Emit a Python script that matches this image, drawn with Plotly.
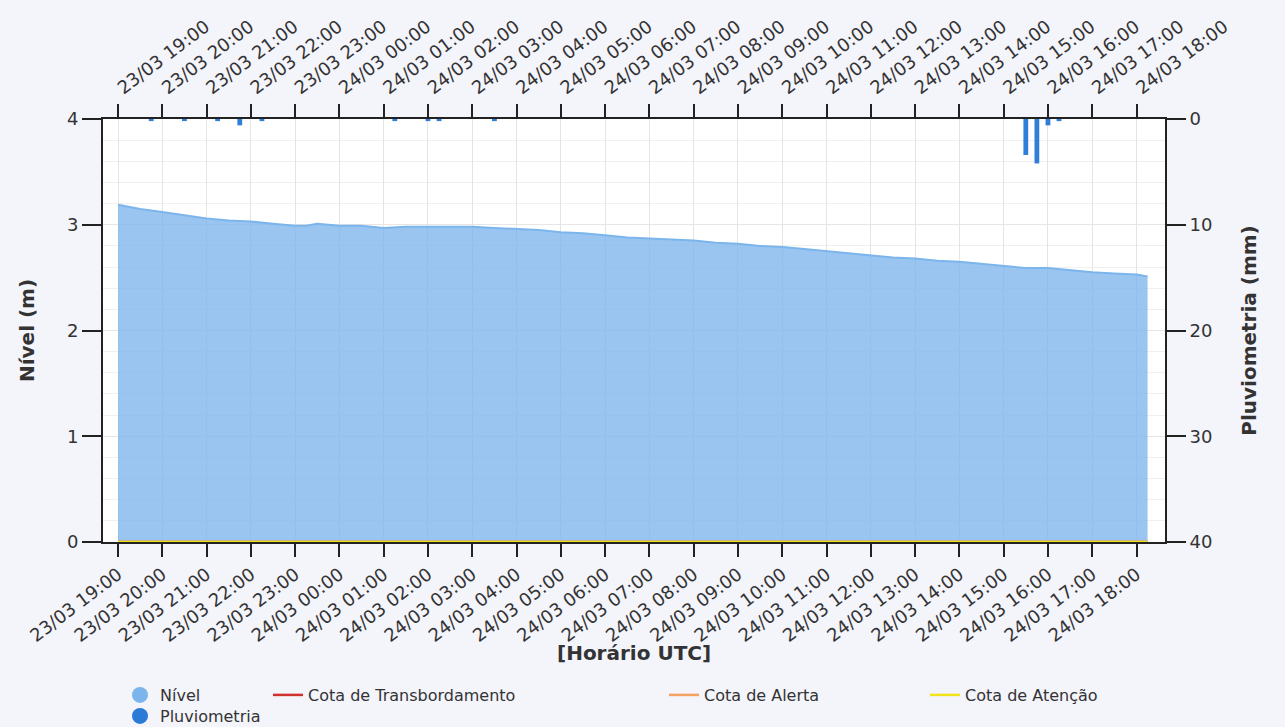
import plotly.graph_objects as go

# ---------------- data ----------------
level_times = [
    "2024-03-23 19:00", "2024-03-23 19:30", "2024-03-23 20:00", "2024-03-23 20:30",
    "2024-03-23 21:00", "2024-03-23 21:30", "2024-03-23 22:00", "2024-03-23 22:30",
    "2024-03-23 23:00", "2024-03-23 23:15", "2024-03-23 23:30", "2024-03-24 00:00",
    "2024-03-24 00:30", "2024-03-24 01:00", "2024-03-24 01:30", "2024-03-24 02:00",
    "2024-03-24 02:30", "2024-03-24 03:00", "2024-03-24 03:30", "2024-03-24 04:00",
    "2024-03-24 04:30", "2024-03-24 05:00", "2024-03-24 05:30", "2024-03-24 06:00",
    "2024-03-24 06:30", "2024-03-24 07:00", "2024-03-24 07:30", "2024-03-24 08:00",
    "2024-03-24 08:30", "2024-03-24 09:00", "2024-03-24 09:30", "2024-03-24 10:00",
    "2024-03-24 10:30", "2024-03-24 11:00", "2024-03-24 11:30", "2024-03-24 12:00",
    "2024-03-24 12:30", "2024-03-24 13:00", "2024-03-24 13:30", "2024-03-24 14:00",
    "2024-03-24 14:30", "2024-03-24 15:00", "2024-03-24 15:30", "2024-03-24 16:00",
    "2024-03-24 16:30", "2024-03-24 17:00", "2024-03-24 17:30", "2024-03-24 18:00",
    "2024-03-24 18:15",
]
level_values = [
    3.19, 3.15, 3.12, 3.09,
    3.06, 3.04, 3.03, 3.01,
    2.99, 2.99, 3.01, 2.99,
    2.99, 2.97, 2.98, 2.98,
    2.98, 2.98, 2.97, 2.96,
    2.95, 2.93, 2.92, 2.90,
    2.88, 2.87, 2.86, 2.85,
    2.83, 2.82, 2.80, 2.79,
    2.77, 2.75, 2.73, 2.71,
    2.69, 2.68, 2.66, 2.65,
    2.63, 2.61, 2.59, 2.59,
    2.57, 2.55, 2.54, 2.53,
    2.51,
]

rain_times = [
    "2024-03-23 19:45", "2024-03-23 20:30", "2024-03-23 21:15", "2024-03-23 21:45",
    "2024-03-23 22:15", "2024-03-24 01:15", "2024-03-24 02:00", "2024-03-24 02:15",
    "2024-03-24 03:30", "2024-03-24 15:30", "2024-03-24 15:45", "2024-03-24 16:00",
    "2024-03-24 16:15",
]
rain_values = [0.2, 0.2, 0.2, 0.6, 0.2, 0.2, 0.2, 0.2, 0.2, 3.4, 4.2, 0.6, 0.2]

cota_names = ["Cota de Transbordamento", "Cota de Alerta", "Cota de Atenção"]
cota_values = [0.0, 0.0, 0.0]
cota_colors = ["#d0312d", "#f4a261", "#f2e31b"]

x_range = ["2024-03-23 18:39:40", "2024-03-24 18:38:36"]
tick_start = "2024-03-23 19:00"
tick_format = "%d/%m %H:%M"
x_title = "[Horário UTC]"

# ---------------- figure ----------------
FONT = "DejaVu Sans"
fig = go.Figure()

fig.add_trace(go.Scatter(
    x=level_times, y=level_values, mode="lines", fill="tozeroy",
    line=dict(color="#7cb5ec", width=2), fillcolor="rgba(124,181,236,0.78)",
    name="Nível", showlegend=False, hoverinfo="x+y"))

legend_ids = ["legend2", "legend3", "legend4"]
for nm, val, col, lg in zip(cota_names, cota_values, cota_colors, legend_ids):
    fig.add_trace(go.Scatter(
        x=[level_times[0], level_times[-1]], y=[val, val], mode="lines",
        line=dict(color=col, width=2.5), name=nm, legend=lg))

fig.add_trace(go.Bar(
    x=rain_times, y=rain_values, xaxis="x2", yaxis="y2",
    marker=dict(color="#2f7ed8", line=dict(width=0)), width=390000,
    name="Pluviometria", showlegend=False))

# legend-only circle entries
fig.add_trace(go.Scatter(x=[None], y=[None], mode="markers", name="Nível",
                         marker=dict(size=16, color="#7cb5ec"), legend="legend"))
fig.add_trace(go.Scatter(x=[None], y=[None], mode="markers", name="Pluviometria",
                         marker=dict(size=16, color="#2a7ad6"), legend="legend5"))

tickfont = dict(family=FONT, size=18, color="#333333")
common_x = dict(
    type="date", range=x_range, tick0=tick_start, dtick=3600000,
    tickformat=tick_format, tickangle=-37, tickfont=tickfont,
    ticks="outside", ticklen=13, tickwidth=2, tickcolor="#222222",
    showline=True, linecolor="#222222", linewidth=2, zeroline=False,
)

legfont = dict(family=FONT, size=16, color="#333333")


def leg(xpx, ypx):
    return dict(x=(xpx - 103) / 1062, y=(542 - ypx) / 423, xanchor="left",
                yanchor="middle", orientation="h", font=legfont,
                bgcolor="rgba(0,0,0,0)", borderwidth=0, itemwidth=30)


fig.update_layout(
    width=1285, height=727,
    paper_bgcolor="#f4f4fb", plot_bgcolor="#ffffff",
    margin=dict(l=103, r=120, t=119, b=185, autoexpand=False),
    font=dict(family=FONT, color="#333333"),
    barmode="overlay",
    xaxis=dict(**common_x, side="bottom", showgrid=True, gridcolor="#e4e4e4",
               gridwidth=1),
    xaxis2=dict(**common_x, side="top", overlaying="x", showgrid=False),
    yaxis=dict(range=[0, 4], dtick=1, tickfont=tickfont, ticks="outside",
               ticklen=19, tickwidth=2, tickcolor="#222222", showline=True,
               linecolor="#222222", linewidth=2, zeroline=False,
               showgrid=True, gridcolor="#e6e6e6",
               minor=dict(dtick=0.2, showgrid=True, gridcolor="#f0f0f0", ticks=""),
               title=dict(text="<b>Nível (m)</b>", standoff=27,
                          font=dict(family=FONT, size=20, color="#333333"))),
    yaxis2=dict(range=[40, 0], dtick=10, overlaying="y", side="right",
                tickfont=tickfont, ticks="outside", ticklen=19, tickwidth=2,
                tickcolor="#222222", showline=True, linecolor="#222222",
                linewidth=2, zeroline=False, showgrid=False,
                title=dict(text="<b>Pluviometria (mm)</b>", standoff=30,
                           font=dict(family=FONT, size=20, color="#333333"))),
    legend=leg(120, 695),
    legend2=leg(268, 695),
    legend3=leg(664, 695),
    legend4=leg(925, 695),
    legend5=leg(120, 716),
    annotations=[dict(text="<b>" + x_title + "</b>", xref="paper", yref="paper",
                      x=0.5, y=(542 - 653) / 423, xanchor="center",
                      yanchor="middle", showarrow=False,
                      font=dict(family=FONT, size=20, color="#333333"))],
)

fig.write_html("out.html", config={"displayModeBar": False},
               post_script="document.body.style.margin='0px';"
                           "document.body.style.background='#f4f4fb';")
